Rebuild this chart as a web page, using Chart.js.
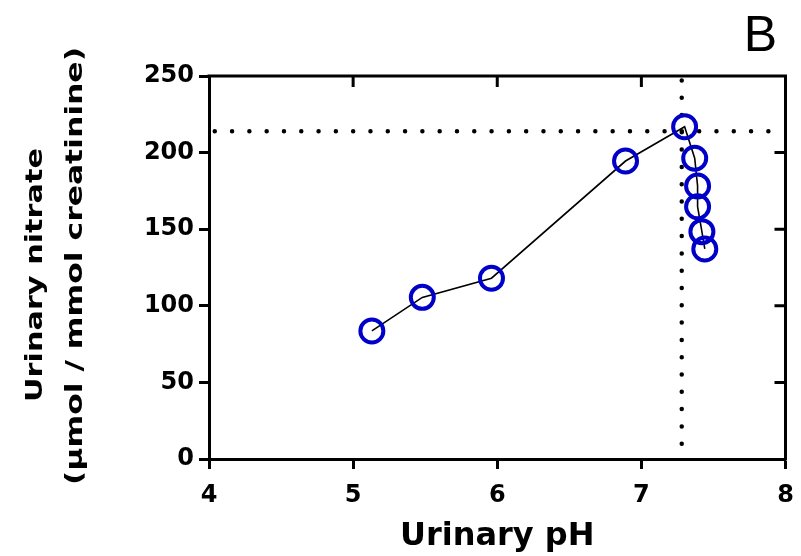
<!DOCTYPE html>
<html lang="en">

<head>
	<meta charset="UTF-8">
	<title>Urinary nitrate vs pH</title>
	<script src="https://cdn.jsdelivr.net/npm/chart.js@4/dist/chart.umd.min.js"></script>
	<style>
		body { margin: 0; background: #fff; }
	</style>
</head>

<body>
	<div style="width: 801px; height: 556px;">
		<canvas id="chart" width="801" height="556"></canvas>
	</div>

	<script>
		// values
		const urinaryPH = [5.13, 5.48, 5.96, 6.89, 7.30, 7.37, 7.39, 7.39, 7.42, 7.44];
		const urinaryNitrate = [83.6, 105.5, 118, 194.5, 216.9, 196.3, 178.2, 164.7, 148.4, 137.1];

		// dotted reference lines
		const refPH = 7.28;
		const refNitrate = 214;
		const hLineX = [4.04, 8];
		const vLineY = [10, 248];

		const xTicks = [4, 5, 6, 7, 8];
		const yTicks = [0, 50, 100, 150, 200, 250];
		const yTitle = ['Urinary nitrate', '(µmol / mmol creatinine)'];
		const panelLabel = 'B';

		const tickFont = { family: 'DejaVu Sans', weight: 'bold', size: 24 };

		// box on top/right with inward ticks, the wide y title and the panel letter
		const frame = {
			id: 'frame',
			afterDraw(chart) {
				const ctx = chart.ctx;
				const a = chart.chartArea;
				const x = chart.scales.x, y = chart.scales.y;
				ctx.save();
				ctx.strokeStyle = '#000';
				ctx.lineWidth = 3;
				ctx.beginPath();
				ctx.moveTo(a.left - 1.5, a.top);
				ctx.lineTo(a.right, a.top);
				ctx.lineTo(a.right, a.bottom + 1.5);
				xTicks.slice(1, -1).forEach(v => {
					const px = x.getPixelForValue(v);
					ctx.moveTo(px, a.top);
					ctx.lineTo(px, a.top + 11);
				});
				yTicks.slice(1, -1).forEach(v => {
					const py = y.getPixelForValue(v);
					ctx.moveTo(a.right, py);
					ctx.lineTo(a.right - 11, py);
				});
				ctx.stroke();

				ctx.fillStyle = '#000';
				ctx.font = '50px "Liberation Sans"';
				ctx.textAlign = 'right';
				ctx.textBaseline = 'alphabetic';
				ctx.fillText(panelLabel, 777, 51);

				// y title: stretched along its length like the original
				ctx.font = 'bold 23px "DejaVu Sans"';
				ctx.textAlign = 'center';
				ctx.textBaseline = 'middle';
				const lines = [
					{ cx: 36, cy: 275, len: 254 },
					{ cx: 76, cy: 266, len: 438 }
				];
				yTitle.forEach((t, i) => {
					const l = lines[i];
					const w = ctx.measureText(t).width;
					ctx.save();
					ctx.translate(l.cx, l.cy);
					ctx.rotate(-Math.PI / 2);
					ctx.scale(l.len / w, 1);
					ctx.fillText(t, 0, 0);
					ctx.restore();
				});
				ctx.restore();
			}
		};

		const ctx = document.getElementById('chart').getContext('2d');
		new Chart(ctx, {
			type: 'scatter',
			data: {
				datasets: [
					{
						data: urinaryPH.map((v, i) => ({ x: v, y: urinaryNitrate[i] })),
						showLine: true,
						borderColor: '#000',
						borderWidth: 1.6,
						pointRadius: 11.5,
						pointHoverRadius: 11.5,
						pointBorderWidth: 4,
						pointBorderColor: '#0000c8',
						pointBackgroundColor: 'rgba(0,0,0,0)',
						order: 0
					},
					{
						data: hLineX.map(v => ({ x: v, y: refNitrate })),
						showLine: true,
						borderColor: '#000',
						borderWidth: 4.5,
						borderDash: [0, 17.3],
						borderCapStyle: 'round',
						pointRadius: 0,
						order: 1
					},
					{
						data: vLineY.map(v => ({ x: refPH, y: v })),
						showLine: true,
						borderColor: '#000',
						borderWidth: 4.5,
						borderDash: [0, 17.3],
						borderCapStyle: 'round',
						pointRadius: 0,
						order: 1
					}
				]
			},
			options: {
				responsive: false,
				animation: false,
				layout: { padding: { top: 76, right: 13, left: 0, bottom: 0 } },
				plugins: {
					legend: { display: false },
					tooltip: { enabled: false }
				},
				scales: {
					x: {
						type: 'linear',
						min: 4,
						max: 8,
						afterBuildTicks: s => { s.ticks = xTicks.map(v => ({ value: v })); },
						afterFit: s => { s.height = 97; s.paddingLeft = 0; s.paddingRight = 0; },
						ticks: { color: '#000', font: tickFont, padding: 12, maxRotation: 0 },
						grid: { drawOnChartArea: false, drawTicks: true, tickLength: 10, tickWidth: 3, tickColor: '#000' },
						border: { color: '#000', width: 3 },
						title: {
							display: true,
							text: 'Urinary pH',
							color: '#000',
							font: { family: 'DejaVu Sans', weight: 'bold', size: 32 },
							padding: { top: 0, bottom: 0 }
						}
					},
					y: {
						type: 'linear',
						min: 0,
						max: 250,
						afterBuildTicks: s => { s.ticks = yTicks.map(v => ({ value: v })); },
						afterFit: s => { s.width = 209; s.paddingTop = 0; s.paddingBottom = 0; },
						ticks: { color: '#000', font: tickFont, padding: 5 },
						grid: { drawOnChartArea: false, drawTicks: true, tickLength: 10, tickWidth: 3, tickColor: '#000' },
						border: { color: '#000', width: 3 },
						title: { display: false }
					}
				}
			},
			plugins: [frame]
		});
	</script>

</body>

</html>
